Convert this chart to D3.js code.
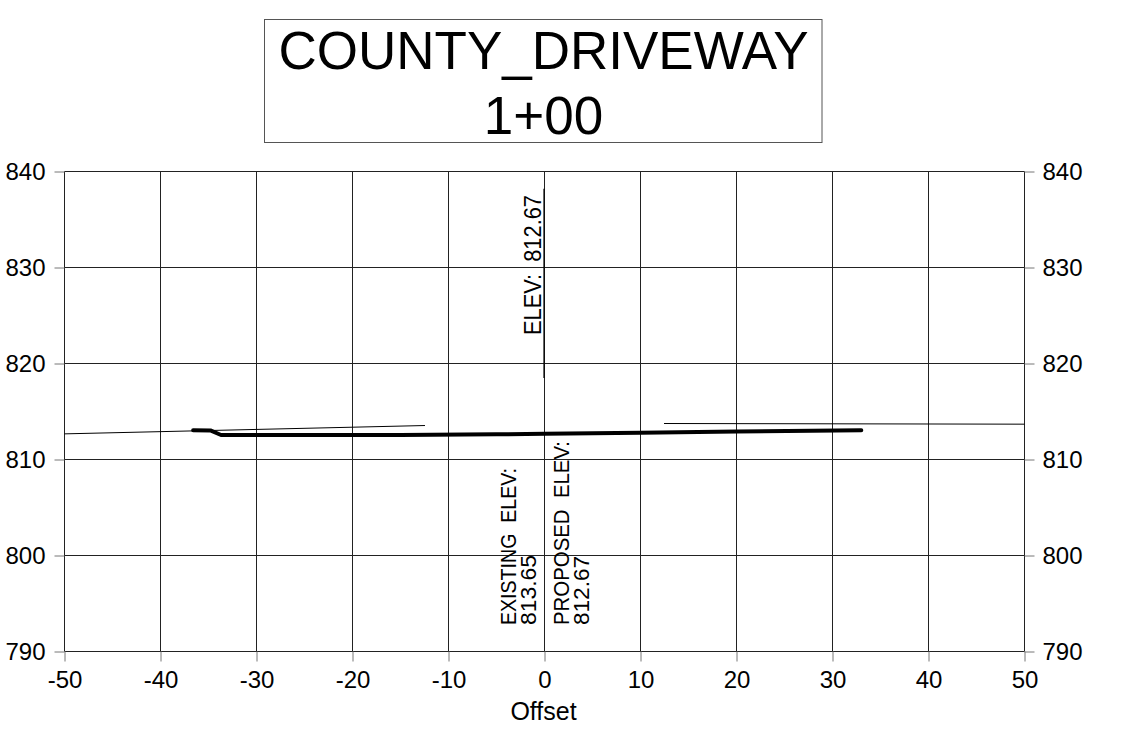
<!DOCTYPE html>
<html>
<head>
<meta charset="utf-8">
<script src="https://cdn.jsdelivr.net/npm/d3@7"></script>
<style>
  html, body { margin: 0; padding: 0; background: #fff; }
  svg { display: block; font-family: "Liberation Sans", Arial, sans-serif; }
  .pre { white-space: pre; }
</style>
</head>
<body>
<svg id="chart" width="1122" height="729"></svg>
<script>
// ---- data ----
const titleLines = ["COUNTY_DRIVEWAY", "1+00"];
const xTicks = [-50, -40, -30, -20, -10, 0, 10, 20, 30, 40, 50];
const yTicks = [790, 800, 810, 820, 830, 840];
const xLabel = "Offset";

// existing ground (thin), two pieces
const existingLeft = [[-50, 812.67], [-12.45, 813.54]];
const existingRight = [[12.45, 813.75], [50, 813.68]];

// proposed (thick)
const proposed = [
  [-36.6, 813.05], [-34.8, 813.03], [-33.7, 812.55], [-25, 812.54],
  [-15, 812.56], [-5, 812.62], [0, 812.67], [10, 812.79],
  [20, 812.91], [33, 813.05]
];

// elevation marker at centerline
const markerOffset = 0;
const markerTop = 838.2;
const markerBottom = 818.5;
const markerLabel = "ELEV:  812.67";
const existingLabel = ["EXISTING  ELEV:", "813.65"];
const proposedLabel = ["PROPOSED  ELEV:", "812.67"];

// ---- drawing ----
const svg = d3.select("#chart");
const x = d3.scaleLinear().domain([-50, 50]).range([64.5, 1024.5]);
const y = d3.scaleLinear().domain([790, 840]).range([651.5, 171.5]);
const fmt = d => String(d);

// title box
svg.append("rect")
  .attr("x", 264.5).attr("y", 19.5).attr("width", 557.5).attr("height", 123)
  .attr("fill", "none").attr("stroke", "#555").attr("stroke-width", 1);
svg.append("text").attr("x", 543.5).attr("y", 68.5)
  .attr("text-anchor", "middle").attr("font-size", 53).attr("fill", "#000")
  .text(titleLines[0]);
svg.append("text").attr("x", 543.5).attr("y", 133.5)
  .attr("text-anchor", "middle").attr("font-size", 53).attr("fill", "#000")
  .text(titleLines[1]);

// grid
const grid = svg.append("g").attr("stroke", "#222").attr("stroke-width", 1);
grid.selectAll("line.v").data(xTicks).join("line")
  .attr("x1", d => x(d)).attr("x2", d => x(d))
  .attr("y1", y(840)).attr("y2", y(790));
grid.selectAll("line.h").data(yTicks).join("line")
  .attr("class", "h")
  .attr("x1", x(-50)).attr("x2", x(50))
  .attr("y1", d => y(d)).attr("y2", d => y(d));

// axes
function styleAxis(g) {
  g.select(".domain").remove();
  g.selectAll(".tick line").attr("stroke", "#777");
  g.selectAll(".tick text").attr("fill", "#000").attr("font-size", 24)
    .attr("font-family", "Liberation Sans, Arial, sans-serif");
}
svg.append("g").attr("transform", `translate(${x(-50)},0)`)
  .call(d3.axisLeft(y).tickValues(yTicks).tickSize(10).tickPadding(9).tickFormat(fmt))
  .call(styleAxis);
svg.append("g").attr("transform", `translate(${x(50)},0)`)
  .call(d3.axisRight(y).tickValues(yTicks).tickSize(10).tickPadding(8).tickFormat(fmt))
  .call(styleAxis);
svg.append("g").attr("transform", `translate(0,${y(790)})`)
  .call(d3.axisBottom(x).tickValues(xTicks).tickSize(10).tickPadding(9).tickFormat(fmt))
  .call(styleAxis);

svg.append("text").attr("x", x(0) - 1).attr("y", 720)
  .attr("text-anchor", "middle").attr("font-size", 25).attr("fill", "#000")
  .text(xLabel);

// lines
const line = d3.line().x(d => x(d[0])).y(d => y(d[1]));
[existingLeft, existingRight].forEach(seg => {
  svg.append("path").datum(seg).attr("d", line)
    .attr("fill", "none").attr("stroke", "#000").attr("stroke-width", 1);
});
svg.append("path").datum(proposed).attr("d", line)
  .attr("fill", "none").attr("stroke", "#000").attr("stroke-width", 4)
  .attr("stroke-linecap", "round").attr("stroke-linejoin", "round");

// marker
svg.append("line")
  .attr("x1", x(markerOffset) - 0.5).attr("x2", x(markerOffset) - 0.5)
  .attr("y1", y(markerTop)).attr("y2", y(markerBottom))
  .attr("stroke", "#000").attr("stroke-width", 1.2);

function vtext(bx, by, str, len, size) {
  svg.append("text")
    .attr("class", "pre")
    .attr("transform", `translate(${bx},${by}) rotate(-90)`)
    .attr("font-size", size).attr("fill", "#000")
    .attr("textLength", len).attr("lengthAdjust", "spacingAndGlyphs")
    .text(str);
}
const cx = x(markerOffset);
vtext(cx - 4, 335, markerLabel, 140, 24);
vtext(cx - 29, 625, existingLabel[0], 157, 22);
vtext(cx - 9, 625, existingLabel[1], 70, 22);
vtext(cx + 24, 625, proposedLabel[0], 184, 22);
vtext(cx + 44, 625, proposedLabel[1], 69, 22);
</script>
</body>
</html>
